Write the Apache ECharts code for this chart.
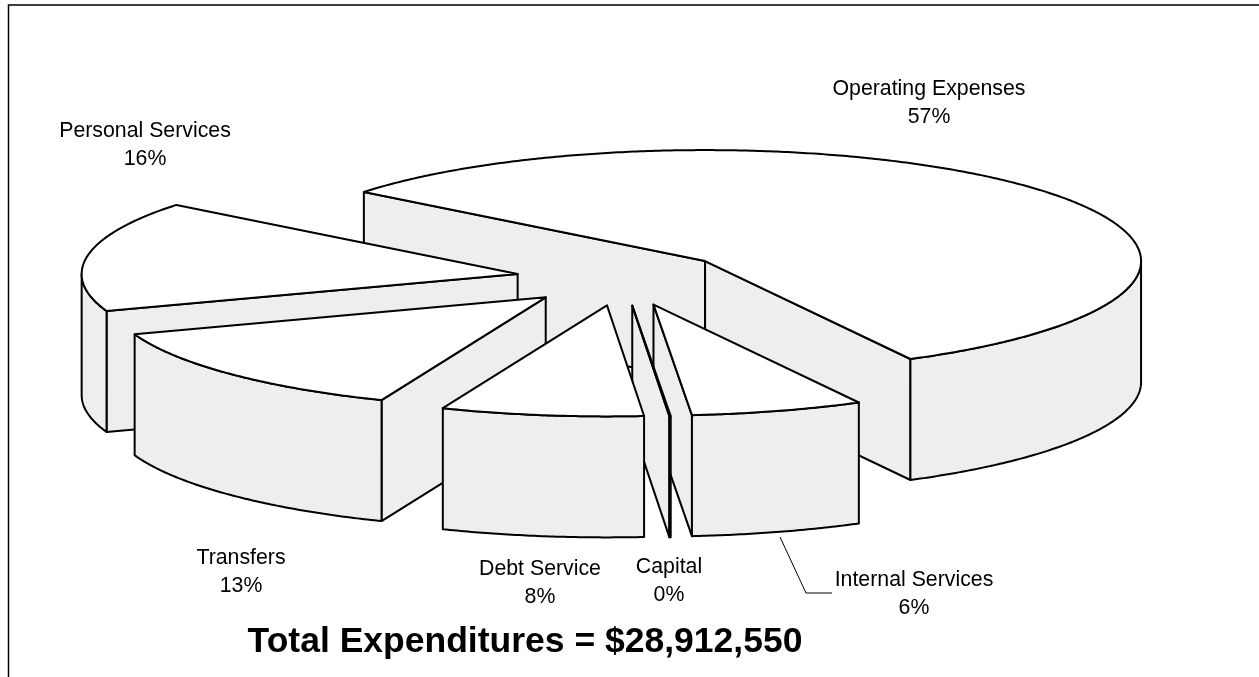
<!DOCTYPE html>
<html><head><meta charset="utf-8">
<style>html,body{margin:0;padding:0;background:#fff}#c{width:1259px;height:677px}</style>
<script src="https://cdn.jsdelivr.net/npm/echarts@6/dist/echarts.min.js"></script>
</head><body><div id="c"></div>
<script>
// clockwise from the back-left edge of the largest slice
const categories = ['Operating Expenses','Internal Services','Capital','Debt Service','Transfers','Personal Services'];
const values = [56.5, 6.4, 0.05, 7.5, 13.45, 16.1];
const paintOrder = [0, 5, 4, 1, 2, 3];
const titleText = 'Total Expenditures = $28,912,550';

// layout
const cx = 623, cy = 278.5, rx = 436, ry = 111, depth = 121, explode = 0.245, startDeg = -141.5;
const labelAt = [[929,103.5],[914,594],[669,581.5],[540,583.5],[241,572.5],[145,145]];
const FONT = '"Liberation Sans", Arial, sans-serif';

const total = values.reduce((a,b)=>a+b,0);
let acc = startDeg;
const spans = values.map(v=>{const s=acc; acc+=v/total*360; return [s,acc];});
const rad = d=>d*Math.PI/180;
const pt = (ox,oy,d,dy=0)=>[ox+rx*Math.cos(rad(d)), oy+ry*Math.sin(rad(d))+dy];
const arc = (ox,oy,a,b,dy=0)=>{const n=Math.max(2,Math.ceil(Math.abs(b-a)*2)),o=[];
  for(let i=0;i<=n;i++)o.push(pt(ox,oy,a+(b-a)*i/n,dy));return o;};

const edge = {stroke:'#000',lineWidth:2,lineJoin:'round'};
function renderItem(params, api){
  const i = api.value(0);
  const [a,b] = spans[i];
  const m = (a+b)/2;
  const ox = cx+explode*rx*Math.cos(rad(m)), oy = cy+explode*ry*Math.sin(rad(m));
  const children = [];
  const wall = pts=>children.push({type:'polygon',shape:{points:pts},style:{fill:'#eeeeee',...edge}});
  const cut = d=>{const t=pt(ox,oy,d);wall([[ox,oy],t,[t[0],t[1]+depth],[ox,oy+depth]]);};
  if(Math.cos(rad(a))<0) cut(a);
  if(Math.cos(rad(b))>0) cut(b);
  // outer rim: only the part of the arc that faces the viewer
  [[0,180],[360,540]].forEach(([lo,hi])=>{
    const s=Math.max(a,lo),e=Math.min(b,hi);
    if(e>s) wall(arc(ox,oy,s,e).concat(arc(ox,oy,e,s,depth)));
  });
  children.push({type:'polygon',shape:{points:[[ox,oy]].concat(arc(ox,oy,a,b))},style:{fill:'#fff',...edge}});
  return {type:'group',children};
}

const labelGraphics = categories.map((c,i)=>({
  type:'text',x:labelAt[i][0],y:labelAt[i][1],silent:true,
  style:{text:c+'\n'+Math.round(values[i])+'%',font:'21.3px '+FONT,fill:'#000',
         align:'center',verticalAlign:'middle',lineHeight:28}
}));

const chart = echarts.init(document.getElementById('c'),null,{renderer:'canvas'});
chart.setOption({
  animation:false,
  backgroundColor:'#fff',
  title:{text:titleText,left:525,top:624,textAlign:'center',
    textStyle:{fontFamily:FONT,fontWeight:'bold',fontSize:35.5,color:'#000'},padding:0},
  graphic:[
    {type:'polyline',shape:{points:[[8.5,677],[8.5,5],[1259,5]]},style:{stroke:'#000',lineWidth:1.5,fill:null},silent:true},
    {type:'polyline',shape:{points:[[780,537],[806,593],[832,593]]},style:{stroke:'#000',lineWidth:1,fill:null},silent:true},
    ...labelGraphics
  ],
  series:[{type:'custom',coordinateSystem:'none',silent:true,clip:false,
    renderItem,data:paintOrder.map(i=>[i,values[i]])}]
});
</script></body></html>
